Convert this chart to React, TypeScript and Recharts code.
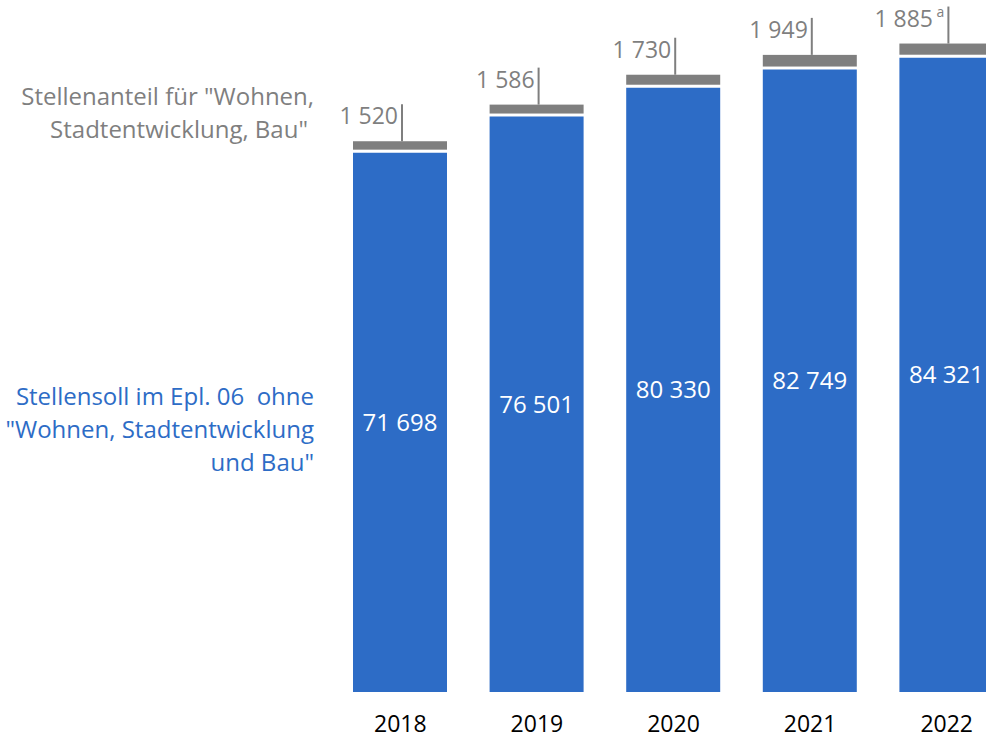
import { BarChart, Bar, XAxis, YAxis, LabelList } from 'recharts';

const years = ['2018', '2019', '2020', '2021', '2022'];
const stellensollOhne = [71698, 76501, 80330, 82749, 84321];
const stellenanteilWSB = [1520, 1586, 1730, 1949, 1885];
const footnotes = ['', '', '', '', 'a'];

const greyLegend = ['Stellenanteil für "Wohnen,', 'Stadtentwicklung, Bau"'];
const blueLegend = ['Stellensoll im Epl. 06\u00a0 ohne', '"Wohnen, Stadtentwicklung', 'und Bau"'];

const BLUE = '#2d6cc6';
const GREY = '#7f7f7f';
const FONT = '"Open Sans", sans-serif';

const data = years.map((year, i) => ({
  year,
  ohne: stellensollOhne[i],
  wsb: stellenanteilWSB[i],
}));

const fmt = (v: number) => v.toLocaleString('en-US').replace(/,/g, ' ');

// grey cap with a white gap underneath
const GreyCap = (props: any) => {
  const { x, y, width, height } = props;
  const h = Math.max(height - 3, 0);
  return <rect x={x} y={y} width={width} height={h} fill={GREY} />;
};

const renderWsbLabel = (props: any) => {
  const { x, y, width, value, index } = props;
  const lx = x + width / 2 + 2;
  const top = y - 37;
  const note = footnotes[index];
  return (
    <g>
      <line x1={lx} y1={y} x2={lx} y2={top} stroke={GREY} strokeWidth={2} />
      <text x={lx - 4} y={top + 20} textAnchor="end" fill={GREY} fontSize={23} fontFamily={FONT}>
        {fmt(value)}
        {note ? (
          <tspan fontSize={14} dy={-10}>
            {' ' + note}
          </tspan>
        ) : null}
      </text>
    </g>
  );
};

export default function App() {
  return (
    <div
      style={{
        position: 'absolute',
        left: 0,
        top: 0,
        width: 986,
        height: 739,
        overflow: 'hidden',
        background: '#fff',
        fontFamily: FONT,
      }}
    >
      <svg width={330} height={739} style={{ position: 'absolute', left: 0, top: 0 }}>
        {greyLegend.map((t, i) => (
          <text key={t} x={i === 0 ? 314 : 308} y={105 + i * 33} textAnchor="end" fill={GREY} fontSize={24} fontFamily={FONT}>
            {t}
          </text>
        ))}
        {blueLegend.map((t, i) => (
          <text key={t} x={314} y={405 + i * 33} textAnchor="end" fill={BLUE} fontSize={24} fontFamily={FONT}>
            {t}
          </text>
        ))}
      </svg>
      <div style={{ position: 'absolute', left: 0, top: 0 }}>
        <BarChart
          width={1040}
          height={739}
          data={data}
          margin={{ top: 15, right: 1040 - 1015, left: 332, bottom: 0 }}
        >
          <XAxis
            dataKey="year"
            axisLine={false}
            tickLine={false}
            height={47}
            tickMargin={18}
            tick={{ fill: '#000', fontSize: 23, fontFamily: FONT }}
          />
          <YAxis hide domain={[0, 90000]} />
          <Bar dataKey="ohne" stackId="s" fill={BLUE} barSize={94} isAnimationActive={false}>
            <LabelList
              dataKey="ohne"
              position="center"
              formatter={(v: any) => fmt(v)}
              fill="#fff"
              fontSize={24}
              fontFamily={FONT}
            />
          </Bar>
          <Bar
            dataKey="wsb"
            stackId="s"
            fill={GREY}
            barSize={94}
            shape={GreyCap}
            isAnimationActive={false}
          >
            <LabelList dataKey="wsb" content={renderWsbLabel} />
          </Bar>
        </BarChart>
      </div>
    </div>
  );
}
